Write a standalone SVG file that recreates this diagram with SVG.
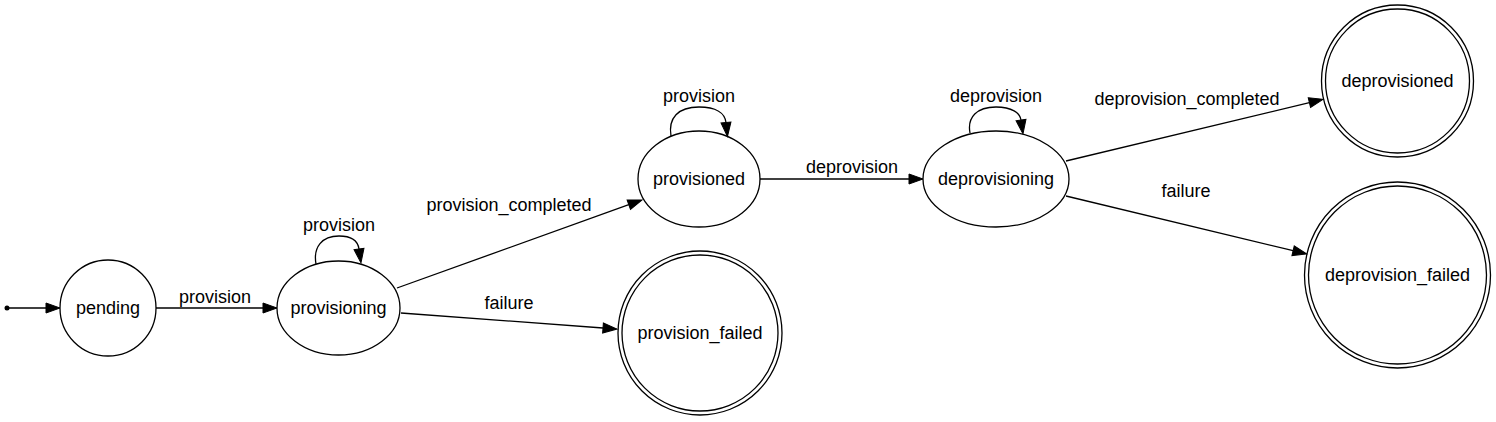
<svg xmlns="http://www.w3.org/2000/svg" width="1496" height="422" viewBox="0 0 1496 422">
<style>
.n{fill:none;stroke:#000;stroke-width:1.3}
.e{fill:none;stroke:#000;stroke-width:1.3}
text{font-family:"Liberation Sans",Arial,Helvetica,sans-serif;font-size:18px;fill:#000;text-anchor:middle}
</style>
<defs>
<marker id="ah" markerUnits="userSpaceOnUse" markerWidth="16" markerHeight="12" refX="0" refY="5" orient="auto" overflow="visible">
<path d="M0,0 L14,5 L0,10 z" fill="#000" stroke="#000" stroke-width="1"/>
</marker>
</defs>
<g id="connectors">
<circle cx="7" cy="308" r="2.5" fill="#000"/>
<path class="e" d="M7,308 L46,308" marker-end="url(#ah)"/>
<path class="e" d="M156,308 L263,308" marker-end="url(#ah)"/>
<text x="215" y="303">provision</text>
<path class="e" d="M316,264 C313,247 322,236 339,236 C353,236 358,242 359,249" marker-end="url(#ah)"/>
<text x="339" y="231">provision</text>
<path class="e" d="M397,288 L628.8,204.7" marker-end="url(#ah)"/>
<text x="509" y="211">provision_completed</text>
<path class="e" d="M401,313 L603,328" marker-end="url(#ah)"/>
<text x="509" y="309">failure</text>
<path class="e" d="M671,136 C668,118 678,107 699,107 C716,107 725,113 726,122.5" marker-end="url(#ah)"/>
<text x="699" y="102">provision</text>
<path class="e" d="M760,179 L909,179" marker-end="url(#ah)"/>
<text x="852" y="173">deprovision</text>
<path class="e" d="M970,133 C967,117 977,107 996,107 C1012,107 1020,113 1021,120" marker-end="url(#ah)"/>
<text x="996" y="102">deprovision</text>
<path class="e" d="M1066,161 L1309.4,102.6" marker-end="url(#ah)"/>
<text x="1187" y="105">deprovision_completed</text>
<path class="e" d="M1066,196 L1293.1,250.7" marker-end="url(#ah)"/>
<text x="1186" y="197">failure</text>
</g>
<g id="pending">
<circle class="n" cx="108" cy="308" r="48"/>
<text x="108" y="314">pending</text>
</g>
<g id="provisioning">
<ellipse class="n" cx="338.5" cy="308" rx="61.5" ry="47"/>
<text x="338.5" y="314">provisioning</text>
</g>
<g id="provisioned">
<ellipse class="n" cx="699" cy="179" rx="61" ry="48"/>
<text x="699" y="185">provisioned</text>
</g>
<g id="provision_failed">
<circle class="n" cx="700" cy="333" r="82"/>
<circle class="n" cx="700" cy="333" r="78"/>
<text x="700" y="339">provision_failed</text>
</g>
<g id="deprovisioning">
<ellipse class="n" cx="996" cy="179" rx="73" ry="48"/>
<text x="996" y="185">deprovisioning</text>
</g>
<g id="deprovisioned">
<circle class="n" cx="1397.5" cy="81" r="76"/>
<circle class="n" cx="1397.5" cy="81" r="72"/>
<text x="1397.5" y="87">deprovisioned</text>
</g>
<g id="deprovision_failed">
<circle class="n" cx="1397.5" cy="275" r="93"/>
<circle class="n" cx="1397.5" cy="275" r="89"/>
<text x="1397.5" y="281">deprovision_failed</text>
</g>
</svg>
